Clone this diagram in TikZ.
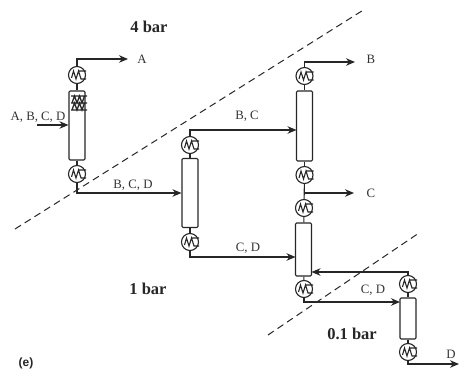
\documentclass[tikz,border=0pt]{standalone}
\usepackage{fontspec}
\setmainfont{Liberation Serif}
\setsansfont{Liberation Sans}
\usetikzlibrary{arrows.meta,positioning}
\tikzset{
	>={Stealth[length=9pt,width=7.5pt]}, % arrow heads
	x=1pt, y=-1pt,
	every path/.style={color=black!85},
	column/.style={draw, line width=1.1pt, rounded corners=1.2pt, minimum width=16pt, inner sep=0pt},
	hx/.style={draw, circle, line width=1.1pt, minimum size=17pt, inner sep=0pt},
	stream/.style={->, line width=1.1pt},
	pipe/.style={line width=1.1pt},
	divide/.style={dashed, line width=1pt, dash pattern=on 7pt off 4.5pt},
	stage/.style={font=\fontsize{16.5}{18}\selectfont\bfseries, text=black!85},
	lab/.style={font=\fontsize{12.8}{14}\selectfont, text=black!80, inner sep=0pt},
}
% heat exchanger with its coil
\newcommand{\hxnode}[3]{
	\node[hx] (#1) at (#2,#3) {};
	\draw[line width=1.1pt] (#2-5.5,#3+3) -- (#2-3.5,#3-4) -- (#2-1,#3+4) -- (#2+1.5,#3-4) -- (#2+4,#3+4) -- (#2+9,#3+4)
		(#2+1.5,#3-4) -- (#2+9,#3-4);
}
\begin{document}
\begin{tikzpicture}
      \useasboundingbox (0,0) rectangle (473,382);

      % columns
      \node[column, minimum height=69pt] (colA) at (77,125.5) {};
      \node[column, minimum height=69pt] (colB) at (190,193) {};
      \node[column, minimum height=70pt] (colC) at (304.5,126) {};
      \node[column, minimum height=53pt] (colD) at (303.5,249.5) {};
      \node[column, minimum height=41pt] (colE) at (408,318.5) {};

      % condensers and reboilers
      \hxnode{condA}{77}{75}
      \hxnode{rebA}{77}{174}
      \hxnode{condB}{190}{145}
      \hxnode{rebB}{190}{242}
      \hxnode{condC}{304.5}{76}
      \hxnode{rebC}{304.5}{175}
      \hxnode{condD}{304}{208}
      \hxnode{rebD}{304}{289}
      \hxnode{condE}{408}{284}
      \hxnode{rebE}{408}{352}

      % extra coil on the first column
      \draw[line width=1.3pt] (71,96) -- (87,96) (71,103) -- (87,103) (71,110) -- (87,110)
      	(72,103) -- (74.5,96) -- (77,103) -- (79.5,96) -- (82,103) -- (84.5,96)
      	(72,110) -- (74.5,103) -- (77,110) -- (79.5,103) -- (82,110) -- (84.5,103);

      % free ends
      \coordinate (outA) at (128,59);
      \coordinate (inA) at (37,125);
      \coordinate (outB) at (355,62);
      \coordinate (outC) at (354,193);
      \coordinate (outD) at (459,364);
      \coordinate (feedC) at (296.5,130);
      \coordinate (feedD) at (295.5,257);
      \coordinate (feedE) at (400,302);
      \coordinate (backD) at (311.5,272);
      \coordinate (tapC) at (304.5,193);

      % vertical links
      \foreach \a/\b in {condA/colA,colA/rebA,condB/colB,colB/rebB,condC/colC,colC/rebC,rebC/condD,condD/colD,colD/rebD,condE/colE,colE/rebE}
      	\draw[pipe] (\a) -- (\b);

      % streams
      \draw[stream] (condA.north) |- (outA);
      \draw[stream] (inA) -- (colA.west |- inA);
      \draw[stream] (rebA.south) |- (colB.west);
      \draw[stream] (condB.north) |- (feedC);
      \draw[stream] (rebB.south) |- (feedD);
      \draw[stream] (condC.north) |- (outB);
      \draw[stream] (tapC) -- (outC);
      \draw[stream] (rebD.south) |- (feedE);
      \draw[stream] (condE.north) |- (backD);
      \draw[stream] (rebE.south) |- (outD);

      % pressure borders
      \coordinate (d1a) at (15,229);
      \coordinate (d1b) at (365,9);
      \coordinate (d2a) at (268,335);
      \coordinate (d2b) at (419,233);
      \draw[divide] (d1a) -- (d1b);
      \draw[divide] (d2a) -- (d2b);

      % labels
      \node[lab] (labA) at (142,59) {A};
      \node[lab] (labB) at (371,59) {B};
      \node[lab] (labC) at (371,193) {C};
      \node[lab] (labD) at (451,354) {D};
      \node[lab] (labF) at (38,117) {A, B, C, D};
      \node[lab] (labBCD) at (133,185) {B, C, D};
      \node[lab] (labBC) at (247,116) {B, C};
      \node[lab] (labCD) at (248,248) {C, D};
      \node[lab] (labCDb) at (373,290) {C, D};
      \node[stage] (p4) at (149,27) {4 bar};
      \node[stage] (p1) at (148,289) {1 bar};
      \node[stage] (p01) at (352,334) {0.1 bar};
      \node[font=\sffamily\bfseries\fontsize{12}{13}\selectfont, text=black!85] (tag) at (26,363) {(e)};
\end{tikzpicture}
\end{document}
